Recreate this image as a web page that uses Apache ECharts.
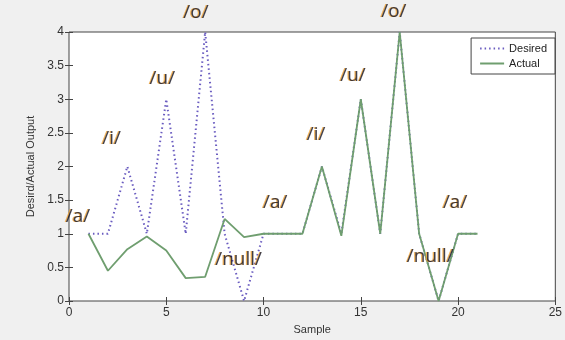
<!DOCTYPE html>
<html>
<head>
<meta charset="utf-8">
<script src="https://cdn.jsdelivr.net/npm/echarts@6/dist/echarts.min.js"></script>
<style>
  html, body { margin: 0; padding: 0; background: #f0f0f0; }
  #chart { width: 565px; height: 340px; }
</style>
</head>
<body>
<div id="chart"></div>
<script>
// sample index on the x axis
const samples = [1, 2, 3, 4, 5, 6, 7, 8, 9, 10, 11, 12, 13, 14, 15, 16, 17, 18, 19, 20, 21];
// target output
const desired = [1, 1, 2, 1, 3, 1, 4, 1, 0, 1, 1, 1, 2, 1, 3, 1, 4, 1, 0, 1, 1];
// network output
const actual = [1, 0.45, 0.77, 0.96, 0.75, 0.34, 0.36, 1.22, 0.95, 1, 1, 1, 2, 0.97, 3, 1, 4, 1, 0, 1, 1];
const xTicks = [0, 5, 10, 15, 20, 25];
const yTicks = [0, 0.5, 1, 1.5, 2, 2.5, 3, 3.5, 4];

// phoneme annotations (data coordinates)
const phonemes = ['/a/', '/i/', '/u/', '/o/', '/null/', '/a/', '/i/', '/u/', '/o/', '/null/', '/a/'];
const phonemeX = [0.46, 2.19, 4.8, 6.53, 8.72, 10.6, 12.7, 14.6, 16.7, 18.57, 19.85];
const phonemeY = [1.26, 2.41, 3.31, 4.29, 0.62, 1.46, 2.47, 3.35, 4.31, 0.66, 1.46];

const chart = echarts.init(document.getElementById('chart'));

const tickStyle = { color: '#333', fontSize: 12, fontFamily: 'Liberation Sans, Arial, sans-serif' };
const nameStyle = { color: '#333', fontSize: 11, fontFamily: 'Liberation Sans, Arial, sans-serif' };

const option = {
  backgroundColor: '#f0f0f0',
  animation: false,
  grid: {
    left: 69, right: 6, top: 32, bottom: 36,
    show: true, backgroundColor: '#ffffff', borderColor: '#444', borderWidth: 1
  },
  legend: {
    data: ['Desired', 'Actual'],
    orient: 'vertical',
    right: 10, top: 38,
    backgroundColor: '#ffffff',
    borderColor: '#444', borderWidth: 1,
    padding: [5, 8, 5, 8],
    itemGap: 4,
    itemWidth: 24, itemHeight: 10,
    itemStyle: { opacity: 0 },
    textStyle: { color: '#222', fontSize: 11, fontFamily: 'Liberation Sans, Arial, sans-serif' }
  },
  xAxis: [
    {
      type: 'value', min: xTicks[0], max: xTicks[xTicks.length - 1], interval: 5,
      name: 'Sample', nameLocation: 'middle', nameGap: 23,
      nameTextStyle: nameStyle,
      axisLine: { show: false },
      axisTick: { show: true, inside: true, length: 4, lineStyle: { color: '#444' } },
      axisLabel: Object.assign({ margin: 6 }, tickStyle),
      splitLine: { show: false }
    },
    {
      type: 'value', position: 'top', min: xTicks[0], max: xTicks[xTicks.length - 1], interval: 5,
      axisLine: { show: false },
      axisTick: { show: true, inside: true, length: 4, lineStyle: { color: '#444' } },
      axisLabel: { show: false },
      splitLine: { show: false }
    }
  ],
  yAxis: [
    {
      type: 'value', min: yTicks[0], max: yTicks[yTicks.length - 1], interval: 0.5,
      name: 'Desird/Actual Output', nameLocation: 'middle', nameGap: 29, nameRotate: 90,
      nameTextStyle: nameStyle,
      axisLine: { show: false },
      axisTick: { show: true, inside: true, length: 4, lineStyle: { color: '#444' } },
      axisLabel: Object.assign({ margin: 5 }, tickStyle),
      splitLine: { show: false }
    },
    {
      type: 'value', position: 'right', min: yTicks[0], max: yTicks[yTicks.length - 1], interval: 0.5,
      axisLine: { show: false },
      axisTick: { show: true, inside: true, length: 4, lineStyle: { color: '#444' } },
      axisLabel: { show: false },
      splitLine: { show: false }
    }
  ],
  series: [
    {
      name: 'Desired',
      type: 'line',
      data: samples.map((x, i) => [x, desired[i]]),
      symbol: 'none',
      color: '#6a5cc0',
      lineStyle: { color: '#6a5cc0', width: 2, type: [1.5, 3] },
      z: 2
    },
    {
      name: 'Actual',
      type: 'line',
      data: samples.map((x, i) => [x, actual[i]]),
      symbol: 'none',
      color: '#6f9e6f',
      lineStyle: { color: '#6f9e6f', width: 1.8 },
      z: 3
    },
    {
      name: 'phonemes',
      type: 'scatter',
      data: phonemeX.map((x, i) => [x, phonemeY[i], phonemes[i]]),
      symbolSize: 0,
      clip: false,
      silent: true,
      z: 5,
      label: {
        show: true,
        position: 'inside',
        formatter: p => p.data[2],
        color: '#101020',
        fontSize: 19,
        fontFamily: 'Open Sans, Lato, sans-serif',
        textShadowColor: '#f0a030',
        textShadowBlur: 0.5,
        textShadowOffsetX: -1.2,
        textShadowOffsetY: 0
      }
    }
  ]
};

chart.setOption(option);
</script>
</body>
</html>
